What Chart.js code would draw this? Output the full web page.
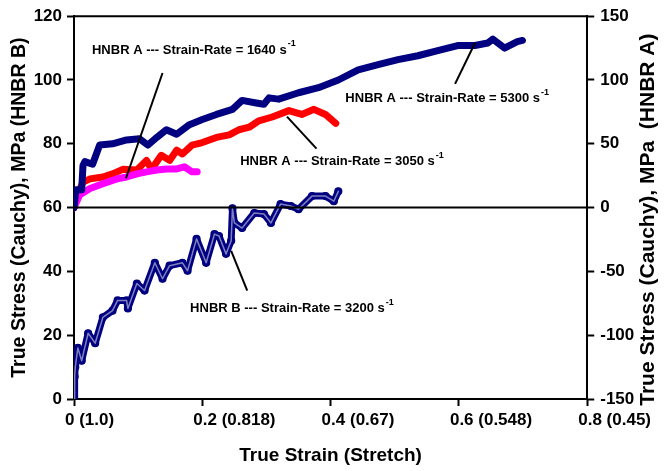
<!DOCTYPE html>
<html>
<head>
<meta charset="utf-8">
<script src="https://cdn.jsdelivr.net/npm/chart.js@4.4.0/dist/chart.umd.min.js"></script>
<style>
  html, body { margin: 0; padding: 0; background: #ffffff; }
  canvas { display: block; }
</style>
</head>
<body>
<canvas id="stressChart" width="664" height="471"></canvas>
<script>
// HNBR A, 5300 1/s (right axis)
const strainA5300 = [0, 0.003, 0.012, 0.014, 0.017, 0.029, 0.040, 0.060, 0.082, 0.102, 0.115, 0.129, 0.144, 0.160, 0.180, 0.200, 0.222, 0.247, 0.262, 0.284, 0.296, 0.304, 0.319, 0.350, 0.381, 0.412, 0.443, 0.474, 0.505, 0.536, 0.567, 0.598, 0.625, 0.645, 0.653, 0.671, 0.691, 0.699];
const stressA5300 = [0, 14, 14, 33, 36, 34, 49, 50, 53, 54, 49, 55, 61, 57.5, 65, 69, 73, 77, 84, 82, 81, 86, 85, 90, 94, 100, 108, 112, 116, 119, 123, 127, 127, 129, 132, 125, 130, 131];

// HNBR A, 3050 1/s (right axis)
const strainA3050 = [0, 0.005, 0.014, 0.025, 0.045, 0.060, 0.076, 0.098, 0.113, 0.121, 0.136, 0.149, 0.160, 0.169, 0.184, 0.200, 0.222, 0.242, 0.257, 0.273, 0.288, 0.309, 0.335, 0.355, 0.374, 0.392, 0.408];
const stressA3050 = [0, 10, 20, 22.5, 24, 26.4, 30, 29.5, 37, 30, 41, 37, 45, 42, 49, 51, 55, 57, 61, 63, 68, 71, 76, 73, 77, 73, 66];

// HNBR A, 1640 1/s (right axis)
const strainA1640 = [0, 0.009, 0.025, 0.045, 0.067, 0.082, 0.098, 0.113, 0.129, 0.144, 0.160, 0.172, 0.184, 0.192];
const stressA1640 = [0, 10, 15, 18.7, 22.5, 24, 26.4, 28, 29.5, 30.3, 30.3, 32, 28, 28];

// HNBR B, 3200 1/s (left axis)
const strainB3200 = [0, 0.001, 0.002, 0.006, 0.012, 0.022, 0.033, 0.045, 0.060, 0.068, 0.082, 0.084, 0.098, 0.110, 0.126, 0.138, 0.149, 0.169, 0.177, 0.191, 0.206, 0.219, 0.226, 0.237, 0.245, 0.247, 0.250, 0.262, 0.281, 0.296, 0.307, 0.322, 0.338, 0.350, 0.371, 0.392, 0.405, 0.412];
const stressB3200 = [0, 7, 10, 16, 12, 20.6, 17.5, 25.6, 27.7, 30.9, 30.9, 28.4, 36.2, 34, 42.7, 37.7, 41.8, 42.7, 40.2, 50.2, 42.7, 51.7, 51.1, 45.5, 49.6, 59.8, 55.2, 53.6, 58.3, 58, 55.2, 61.1, 60.5, 59.5, 63.6, 63.6, 62, 65.1];

const xTickLabels = ["0 (1.0)", "0.2 (0.818)", "0.4 (0.67)", "0.6 (0.548)", "0.8 (0.45)"];

const pts = (xs, ys) => xs.map((v, i) => ({ x: v, y: ys[i] }));

// callouts: text anchor (left/middle) and leader line, in strain / left-axis units
const notes = [
  { text: "HNBR A --- Strain-Rate = 1640 s", at: [0.028, 109.4], line: [0.138, 102.2, 0.081, 69.2] },
  { text: "HNBR A --- Strain-Rate = 5300 s", at: [0.423, 94.1], line: [0.594, 98.8, 0.625, 111.6] },
  { text: "HNBR A --- Strain-Rate = 3050 s", at: [0.259, 74.5], line: [0.332, 88.5, 0.378, 78.5] },
  { text: "HNBR B --- Strain-Rate = 3200 s", at: [0.181, 28.4], line: [0.245, 46.4, 0.270, 34.0] }
];

const FONT = "'Liberation Sans', Arial, sans-serif";
const rightTitle = 'True Stress (Cauchy), MPa  (HNBR A)';

const framePlugin = {
  id: 'frame',
  afterDatasetsDraw(chart) {
    const { ctx, chartArea: a, scales } = chart;
    ctx.save();
    ctx.strokeStyle = '#000';
    ctx.lineWidth = 2;
    // top edge of the plot box
    ctx.beginPath();
    ctx.moveTo(a.left, a.top);
    ctx.lineTo(a.right, a.top);
    // zero line of the HNBR A axis
    const y0 = scales.yA.getPixelForValue(0);
    ctx.moveTo(a.left, y0);
    ctx.lineTo(a.right, y0);
    ctx.stroke();

    // callouts
    const { x, yB } = scales;
    notes.forEach(n => {
      ctx.beginPath();
      ctx.moveTo(x.getPixelForValue(n.line[0]), yB.getPixelForValue(n.line[1]));
      ctx.lineTo(x.getPixelForValue(n.line[2]), yB.getPixelForValue(n.line[3]));
      ctx.stroke();

      const tx = x.getPixelForValue(n.at[0]);
      const ty = yB.getPixelForValue(n.at[1]);
      ctx.fillStyle = '#000';
      ctx.textBaseline = 'middle';
      ctx.textAlign = 'left';
      ctx.font = 'bold 13px ' + FONT;
      ctx.fillText(n.text, tx, ty);
      const w = ctx.measureText(n.text).width;
      ctx.font = 'bold 9px ' + FONT;
      ctx.fillText('-1', tx + w + 1, ty - 6);
    });

    // right axis title, reading bottom to top like the left one
    const r = scales.yA;
    ctx.translate(r.right - 13, (a.top + a.bottom) / 2 + 12);
    ctx.rotate(-Math.PI / 2);
    ctx.textAlign = 'center';
    ctx.textBaseline = 'middle';
    ctx.font = 'bold 21px ' + FONT;
    ctx.fillText(rightTitle, 0, 0);
    ctx.restore();
  }
};

const tickFont = { family: FONT, size: 17, weight: 'bold' };
const axisGrid = { drawOnChartArea: false, drawTicks: true, tickLength: 7, tickWidth: 2, tickColor: '#000' };
const axisBorder = { display: true, color: '#000', width: 2 };

new Chart(document.getElementById('stressChart').getContext('2d'), {
  type: 'line',
  data: {
    datasets: [
      {
        // hollow core of the open-circle band
        label: 'HNBR B 3200 core',
        data: pts(strainB3200, stressB3200),
        yAxisID: 'yB',
        borderColor: 'rgba(255,255,255,0.5)',
        borderWidth: 1.5,
        pointRadius: 0,
        order: 0
      },
      {
        label: 'HNBR B 3200',
        data: pts(strainB3200, stressB3200),
        yAxisID: 'yB',
        borderColor: '#000080',
        borderWidth: 7,
        pointStyle: 'circle',
        pointRadius: 3.5,
        pointBorderWidth: 1.2,
        pointBorderColor: '#000080',
        pointBackgroundColor: '#000080',
        order: 1
      },
      {
        label: 'HNBR A 5300',
        data: pts(strainA5300, stressA5300),
        yAxisID: 'yA',
        borderColor: '#000080',
        borderWidth: 7,
        pointRadius: 0,
        order: 2
      },
      {
        label: 'HNBR A 1640',
        data: pts(strainA1640, stressA1640),
        yAxisID: 'yA',
        borderColor: '#ff00ff',
        borderWidth: 7,
        pointRadius: 0,
        order: 3
      },
      {
        label: 'HNBR A 3050',
        data: pts(strainA3050, stressA3050),
        yAxisID: 'yA',
        borderColor: '#ff0000',
        borderWidth: 7,
        pointRadius: 0,
        order: 4
      }
    ]
  },
  options: {
    responsive: false,
    animation: false,
    datasets: { line: { borderJoinStyle: 'round', borderCapStyle: 'round', tension: 0 } },
    layout: { padding: { top: 13, left: 0, right: 0, bottom: 0 } },
    plugins: { legend: { display: false }, tooltip: { enabled: false } },
    scales: {
      x: {
        type: 'linear',
        position: 'bottom',
        min: 0, max: 0.8,
        afterFit: s => { s.height = 72; },
        grid: axisGrid,
        border: axisBorder,
        ticks: {
          stepSize: 0.2, color: '#000', font: tickFont, padding: 4,
          align: 'start', labelOffset: -9, maxRotation: 0,
          callback: (v, i) => xTickLabels[i]
        },
        title: { display: true, text: 'True Strain (Stretch)', color: '#000', font: { family: FONT, size: 19, weight: 'bold' }, padding: { top: 0, bottom: 4 } }
      },
      yB: {
        position: 'left',
        min: 0, max: 120,
        afterFit: s => { s.width = 74; },
        grid: axisGrid,
        border: axisBorder,
        ticks: { stepSize: 20, color: '#000', font: tickFont, padding: 5 },
        title: { display: true, text: 'True Stress (Cauchy), MPa (HNBR B)', color: '#000', font: { family: FONT, size: 19.5, weight: 'bold' }, padding: { top: 8, bottom: 0 } }
      },
      yA: {
        position: 'right',
        min: -150, max: 150,
        afterFit: s => { s.width = 74; },
        grid: axisGrid,
        border: axisBorder,
        ticks: { stepSize: 50, color: '#000', font: tickFont, padding: 6 },
        title: { display: false }
      }
    }
  },
  plugins: [framePlugin]
});
</script>
</body>
</html>
